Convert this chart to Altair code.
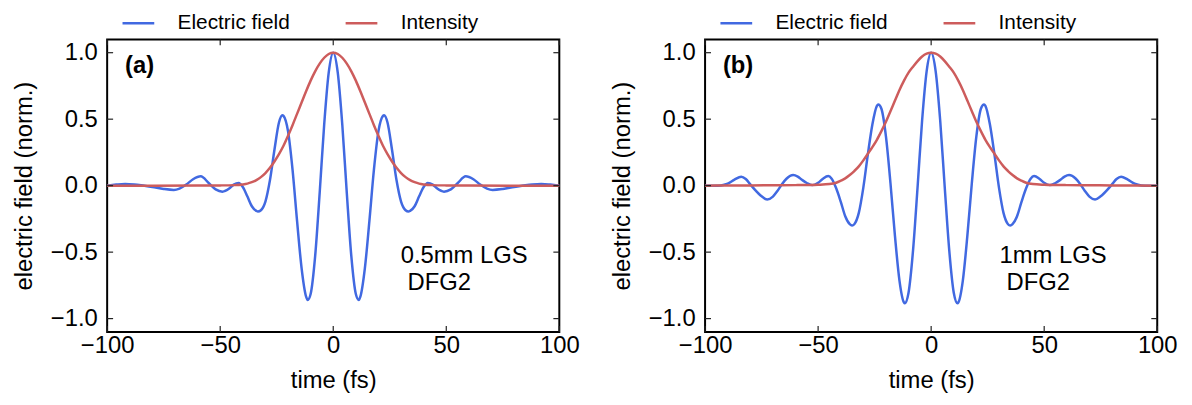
import altair as alt
import pandas as pd

FONT = "Liberation Sans"
BLUE = "#4169e1"
RED = "#cd5c5c"
SERIES = ["Electric field", "Intensity"]

# ---------------- panel (a): 0.5 mm LGS ----------------
t_a_field = [-100, -96, -92, -88, -85, -80, -75, -70.5, -68, -65, -62, -58.6, -55, -52, -49, -46, -44, -41.8,
             -40, -38, -36, -34, -33.3, -32, -30, -28, -26, -24, -22.5, -22, -20, -18, -16, -14, -12, -11.3,
             -10, -8, -6, -4, -2, 0, 2, 4, 6, 8, 10, 11.3, 12, 14, 16, 18, 20, 22, 22.5, 24, 26, 28, 30, 32,
             33.3, 34, 36, 38, 40, 41.8, 44, 46, 49, 52, 55, 58.6, 62, 65, 68, 70.5, 75, 80, 85, 88, 92, 96, 100]
a_field = [0.0, 0.008, 0.013, 0.009, 0.003, -0.01, -0.025, -0.032, -0.022, 0.008, 0.048, 0.07, 0.018, -0.028,
           -0.045, -0.022, 0.008, 0.02, -0.01, -0.08, -0.155, -0.19, -0.195, -0.185, -0.12, 0.04, 0.27, 0.475,
           0.53, 0.525, 0.41, 0.12, -0.265, -0.62, -0.835, -0.86, -0.815, -0.53, -0.055, 0.46, 0.85, 1.0,
           0.85, 0.46, -0.055, -0.53, -0.815, -0.86, -0.835, -0.62, -0.265, 0.12, 0.41, 0.525, 0.53, 0.475,
           0.27, 0.04, -0.12, -0.185, -0.195, -0.19, -0.155, -0.08, -0.01, 0.02, 0.008, -0.022, -0.045, -0.028,
           0.018, 0.07, 0.048, 0.008, -0.022, -0.032, -0.025, -0.01, 0.003, 0.009, 0.013, 0.008, 0.0]

t_a_int = [-100, -80, -60, -50, -44, -40, -38, -36, -34, -32, -30, -28, -26, -24, -22, -20, -18, -16, -14, -12,
           -10, -8, -6, -4, -2, 0, 2, 4, 6, 8, 10, 12, 14, 16, 18, 20, 22, 24, 26, 28, 30, 32, 34, 36, 38, 40,
           44, 50, 60, 80, 100]
a_int = [0.0, 0.0, 0.001, 0.002, 0.004, 0.009, 0.015, 0.026, 0.041, 0.064, 0.095, 0.134, 0.182, 0.237, 0.3,
         0.375, 0.455, 0.54, 0.625, 0.71, 0.79, 0.86, 0.918, 0.962, 0.99, 1.0, 0.99, 0.962, 0.918, 0.86, 0.79,
         0.71, 0.625, 0.54, 0.455, 0.375, 0.3, 0.237, 0.182, 0.134, 0.095, 0.064, 0.041, 0.026, 0.015, 0.009,
         0.004, 0.002, 0.001, 0.0, 0.0]

# ---------------- panel (b): 1 mm LGS ----------------
t_b_field = [-100, -96, -93, -90, -87, -84, -82, -80, -78, -75, -72.5, -70, -68, -66, -64, -61, -59, -57, -55,
             -52.5, -50, -48, -45.5, -44, -42, -40, -38, -36, -35, -34, -32, -30, -28, -26, -24, -23.4, -22,
             -20, -18, -16, -14, -12, -11.7, -10, -8, -6, -4, -2, 0, 2, 4, 6, 8, 10, 11.7, 12, 14, 16, 18, 20,
             22, 23.4, 24, 26, 28, 30, 32, 34, 35, 36, 38, 40, 42, 44, 45.5, 48, 50, 52.5, 55, 57, 59, 61, 64,
             66, 68, 70, 72.5, 75, 78, 80, 82, 84, 87, 90, 93, 96, 100]
b_field = [0.0, 0.0, 0.002, 0.015, 0.045, 0.067, 0.05, 0.01, -0.03, -0.08, -0.104, -0.082, -0.04, 0.01, 0.052,
           0.08, 0.068, 0.042, 0.02, 0.004, 0.022, 0.05, 0.072, 0.052, -0.02, -0.12, -0.23, -0.29, -0.3, -0.29,
           -0.205, -0.015, 0.235, 0.46, 0.6, 0.61, 0.578, 0.37, 0.02, -0.38, -0.716, -0.88, -0.885, -0.805,
           -0.485, -0.01, 0.49, 0.86, 1.0, 0.86, 0.49, -0.01, -0.485, -0.805, -0.885, -0.88, -0.716, -0.38,
           0.02, 0.37, 0.578, 0.61, 0.6, 0.46, 0.235, -0.015, -0.205, -0.29, -0.3, -0.29, -0.23, -0.12, -0.02,
           0.052, 0.072, 0.05, 0.022, 0.004, 0.02, 0.042, 0.068, 0.08, 0.052, 0.01, -0.04, -0.082, -0.104,
           -0.08, -0.03, 0.01, 0.05, 0.067, 0.045, 0.015, 0.002, 0.0, 0.0]

t_b_int = [-100, -90, -80, -70, -60, -55, -50, -45, -42, -40, -38, -36, -34, -32, -30, -28, -26, -24, -22, -20,
           -18, -16, -14, -12, -10, -8, -6, -4, -2, 0, 2, 4, 6, 8, 10, 12, 14, 16, 18, 20, 22, 24, 26, 28, 30,
           32, 34, 36, 38, 40, 42, 45, 50, 55, 60, 70, 80, 90, 100]
b_int = [0.0, 0.001, 0.002, 0.003, 0.004, 0.005, 0.007, 0.012, 0.022, 0.037, 0.055, 0.08, 0.11, 0.145, 0.19,
         0.24, 0.29, 0.345, 0.41, 0.48, 0.56, 0.64, 0.72, 0.79, 0.85, 0.895, 0.937, 0.972, 0.993, 1.0, 0.993,
         0.972, 0.937, 0.895, 0.85, 0.79, 0.72, 0.64, 0.56, 0.48, 0.41, 0.345, 0.29, 0.24, 0.19, 0.145, 0.11,
         0.08, 0.055, 0.037, 0.022, 0.012, 0.007, 0.005, 0.004, 0.003, 0.002, 0.001, 0.0]

x_ticks = [-100, -50, 0, 50, 100]
y_ticks = [-1.0, -0.5, 0.0, 0.5, 1.0]

W, H = 456, 295
TICK = 6


def long_df(t_f, f, t_i, i):
    a = pd.DataFrame({"t": t_f, "v": f, "series": SERIES[0]})
    b = pd.DataFrame({"t": t_i, "v": i, "series": SERIES[1]})
    return pd.concat([a, b], ignore_index=True)


def panel(df, tag, note1, note2, note_x):
    x = alt.X("t:Q", scale=alt.Scale(domain=[-100, 100], nice=False, zero=False),
              axis=alt.Axis(values=x_ticks, format="d", title="time (fs)", labelPadding=2,
                            titlePadding=11, labelFlush=False, labelOverlap=False))
    y = alt.Y("v:Q", scale=alt.Scale(domain=[-1.1, 1.1], nice=False, zero=False),
              axis=alt.Axis(values=y_ticks, format=".1f", title="electric field (norm.)",
                            labelPadding=10, titlePadding=14, labelFlush=False, labelOverlap=False))
    lines = alt.Chart(df).mark_line(strokeWidth=2.5, interpolate="monotone").encode(
        x=x, y=y,
        color=alt.Color("series:N", scale=alt.Scale(domain=SERIES, range=[BLUE, RED]),
                        legend=alt.Legend(title=None, orient="none", legendX=14, legendY=-34,
                                          direction="horizontal", symbolType="stroke",
                                          symbolSize=1024, symbolStrokeWidth=2.5,
                                          labelFontSize=21, labelFont=FONT, labelColor="black",
                                          labelOffset=22, columnPadding=50, padding=0)),
    )
    xt = pd.DataFrame({"t": x_ticks})
    yt = pd.DataFrame({"v": y_ticks})
    rule = dict(color="#222222", strokeWidth=1.2)
    tb = alt.Chart(xt).mark_rule(**rule).encode(x=x, y=alt.value(H), y2=alt.value(H - TICK))
    tt = alt.Chart(xt).mark_rule(**rule).encode(x=x, y=alt.value(0), y2=alt.value(TICK))
    tl = alt.Chart(yt).mark_rule(**rule).encode(y=y, x=alt.value(0), x2=alt.value(TICK))
    tr = alt.Chart(yt).mark_rule(**rule).encode(y=y, x=alt.value(W), x2=alt.value(W - TICK))
    one = pd.DataFrame({"k": [0]})
    txt = dict(font=FONT, fontSize=24, align="left", baseline="top", color="black")
    tag_t = alt.Chart(one).mark_text(text=tag, fontWeight="bold", **txt).encode(
        x=alt.value(18), y=alt.value(15))
    n1 = alt.Chart(one).mark_text(text=note1, **txt).encode(x=alt.value(note_x), y=alt.value(207))
    n2 = alt.Chart(one).mark_text(text=note2, **txt).encode(x=alt.value(note_x + 7), y=alt.value(234))
    return alt.layer(lines, tb, tt, tl, tr, tag_t, n1, n2).properties(width=W, height=H)


pa = panel(long_df(t_a_field, a_field, t_a_int, a_int), "(a)", "0.5mm LGS", "DFG2", 296)
pb = panel(long_df(t_b_field, b_field, t_b_int, b_int), "(b)", "1mm LGS", "DFG2", 297)

chart = alt.hconcat(pa, pb, spacing=28).resolve_legend(color="independent").properties(
    padding={"left": 3, "top": -5, "right": 5, "bottom": 5}
).configure_view(stroke="black", strokeWidth=2).configure_axis(
    labelFont=FONT, titleFont=FONT, labelFontSize=24, titleFontSize=24, titleFontWeight="normal",
    labelColor="black", titleColor="black", grid=False, domain=False, ticks=False, tickSize=0
)

chart.save("out.html", embed_options={"renderer": "svg", "actions": False})
